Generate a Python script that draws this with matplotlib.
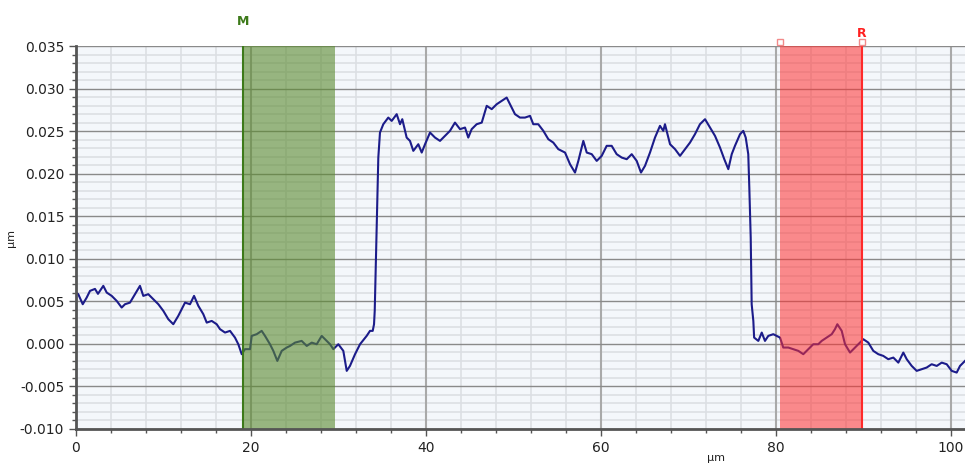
import matplotlib
matplotlib.use("Agg")
import matplotlib.pyplot as plt
from matplotlib.ticker import MultipleLocator, FormatStrFormatter

# Profile trace: position (um) and height (um)
x_um = [0.0, 0.26, 0.77, 1.22, 1.60, 2.17, 2.51, 3.12, 3.51, 4.08, 4.65, 5.22, 5.60,
        6.17, 6.74, 7.31, 7.69, 8.26, 8.83, 9.41, 9.98, 10.55, 11.12, 11.69, 12.46,
        13.03, 13.49, 13.98, 14.55, 14.94, 15.51, 16.08, 16.46, 17.03, 17.60, 18.17,
        18.55, 18.94, 19.31, 19.89, 20.08, 20.65, 21.22, 21.60, 22.17, 22.55, 23.01,
        23.51, 24.08, 24.46, 25.03, 25.79, 26.37, 26.94, 27.51, 28.08, 28.46, 29.03,
        29.41, 29.98, 30.55, 30.94, 31.31, 31.89, 32.46, 33.22, 33.60, 33.91, 34.06,
        34.14, 34.55, 34.74, 35.12, 35.69, 36.08, 36.65, 37.03, 37.29, 37.79, 38.17,
        38.55, 39.12, 39.51, 39.89, 40.46, 41.03, 41.60, 42.17, 42.74, 43.31, 43.89,
        44.46, 44.83, 45.22, 45.79, 46.37, 46.94, 47.51, 48.08, 48.65, 49.22, 49.60,
        50.17, 50.74, 51.31, 51.89, 52.26, 52.83, 53.41, 53.98, 54.55, 55.12, 55.89,
        56.46, 57.03, 57.41, 57.98, 58.37, 58.94, 59.51, 60.08, 60.65, 61.22, 61.79,
        62.37, 62.94, 63.51, 64.08, 64.57, 65.03, 65.60, 66.17, 66.74, 67.12, 67.31,
        67.89, 68.46, 69.03, 69.60, 70.17, 70.74, 71.31, 71.89, 72.46, 73.03, 73.60,
        74.09, 74.55, 74.94, 75.31, 75.89, 76.26, 76.54, 76.83, 76.95, 77.11, 77.22,
        77.41, 77.50, 77.98, 78.37, 78.74, 79.12, 79.69, 80.08, 80.46, 80.83, 81.41,
        81.98, 82.55, 83.12, 83.69, 84.26, 84.83, 85.22, 85.79, 86.37, 86.74, 87.01,
        87.51, 87.89, 88.46, 89.03, 89.60, 89.98, 90.55, 91.12, 91.69, 92.26, 92.83,
        93.41, 93.98, 94.55, 94.94, 95.51, 96.08, 96.65, 97.22, 97.79, 98.37, 98.94,
        99.51, 100.08, 100.65, 101.03, 101.60]
z_um = [0.00603, 0.00584, 0.00466, 0.00544, 0.00623, 0.00646, 0.00588, 0.00682,
        0.00603, 0.00564, 0.00505, 0.00427, 0.00466, 0.00485, 0.00584, 0.00682,
        0.00564, 0.00584, 0.00525, 0.00466, 0.00388, 0.00290, 0.00231, 0.00329,
        0.00485, 0.00466, 0.00564, 0.00447, 0.00349, 0.00250, 0.00270, 0.00231,
        0.00173, 0.00133, 0.00153, 0.00074, -0.00004, -0.00121, -0.00062, -0.00062,
        0.00094, 0.00114, 0.00153, 0.00094, -0.00004, -0.00082, -0.00200, -0.00082,
        -0.00043, -0.00024, 0.00015, 0.00035, -0.00024, 0.00015, -0.00004, 0.00094,
        0.00055, -0.00004, -0.00062, -0.00004, -0.00082, -0.00317, -0.00259, -0.00121,
        -0.00004, 0.00094, 0.00153, 0.00153, 0.00231, 0.00388, 0.02189, 0.02483,
        0.02581, 0.02659, 0.02620, 0.02699, 0.02581, 0.02640, 0.02424, 0.02385,
        0.02268, 0.02346, 0.02248, 0.02346, 0.02483, 0.02424, 0.02385, 0.02444,
        0.02503, 0.02600, 0.02523, 0.02542, 0.02424, 0.02523, 0.02581, 0.02600,
        0.02797, 0.02758, 0.02816, 0.02855, 0.02894, 0.02816, 0.02699, 0.02659,
        0.02659, 0.02679, 0.02581, 0.02581, 0.02503, 0.02405, 0.02365, 0.02288,
        0.02248, 0.02111, 0.02013, 0.02150, 0.02385, 0.02248, 0.02229, 0.02150,
        0.02209, 0.02327, 0.02327, 0.02229, 0.02189, 0.02170, 0.02229, 0.02150,
        0.02013, 0.02092, 0.02248, 0.02424, 0.02562, 0.02503, 0.02581, 0.02346,
        0.02288, 0.02209, 0.02288, 0.02365, 0.02464, 0.02581, 0.02640, 0.02542,
        0.02444, 0.02307, 0.02170, 0.02053, 0.02229, 0.02327, 0.02464, 0.02503,
        0.02424, 0.02229, 0.01837, 0.01249, 0.00466, 0.00270, 0.00074, 0.00035,
        0.00133, 0.00035, 0.00094, 0.00114, 0.00094, 0.00074, -0.00043, -0.00043,
        -0.00062, -0.00082, -0.00121, -0.00062, -0.00004, -0.00004, 0.00035,
        0.00074, 0.00114, 0.00173, 0.00231, 0.00153, -0.00004, -0.00102, -0.00043,
        0.00015, 0.00055, 0.00015, -0.00082, -0.00121, -0.00141, -0.00180, -0.00161,
        -0.00220, -0.00102, -0.00180, -0.00259, -0.00317, -0.00297, -0.00278,
        -0.00239, -0.00259, -0.00220, -0.00239, -0.00317, -0.00337, -0.00259,
        -0.00200]

# Cursor regions
m_band = (19.1, 29.6)
r_band = (80.45, 89.85)

fig = plt.figure(figsize=(9.65, 4.65), dpi=100)
ax = fig.add_axes([76 / 965, 36 / 465, 889 / 965, 383 / 465])
ax.set_facecolor("#f4f7fb")

ax.set_xlim(0, 101.6)
ax.set_ylim(-0.010, 0.035)

ax.xaxis.set_major_locator(MultipleLocator(20))
ax.xaxis.set_minor_locator(MultipleLocator(4))
ax.yaxis.set_major_locator(MultipleLocator(0.005))
ax.yaxis.set_minor_locator(MultipleLocator(0.001))
ax.yaxis.set_major_formatter(FormatStrFormatter("%.3f"))

# light minor grid underneath, major lines on top of it
ax.set_axisbelow(True)
ax.grid(which="minor", axis="both", color="#dcdfe4", lw=1.2, ls="-")
for xv in ax.get_xticks():
    ax.axvline(xv, color="#a9a9a9", lw=1.5, zorder=1.1)
for yv in ax.get_yticks():
    ax.axhline(yv, color="#8a8a8a", lw=1.0, zorder=1.2)

ax.plot(x_um, z_um, color="#1c1c8a", lw=1.5, zorder=2)

# cursor bands drawn over the trace
ax.axvspan(*m_band, color="#5a8a2e", alpha=0.6, lw=0, zorder=3)
ax.axvline(m_band[0], color="#3d7a1a", lw=1.5, zorder=4)
ax.axvspan(*r_band, color="#ff3030", alpha=0.55, lw=0, zorder=3)
ax.axvline(r_band[1], color="#ff2a2a", lw=1.5, zorder=4)
for xv in r_band:
    ax.plot(xv, 0.0355, marker="s", ms=5, mfc="none", mec="#f28a8a", mew=1,
            clip_on=False, zorder=5)

ax.text(m_band[0], 0.0379, "M", color="#3d7a1a", fontsize=9, fontweight="bold",
        ha="center", va="center", clip_on=False)
ax.text(r_band[1], 0.0365, "R", color="#ff2020", fontsize=9, fontweight="bold",
        ha="center", va="center", clip_on=False)

ax.set_xlim(0, 101.6)
ax.set_ylim(-0.010, 0.035)

for side in ("top", "right"):
    ax.spines[side].set_visible(False)
for side in ("left", "bottom"):
    ax.spines[side].set_color("#555555")
    ax.spines[side].set_linewidth(2)
    ax.spines[side].set_zorder(6)

ax.tick_params(which="major", direction="out", length=5, width=1, color="#555555",
               labelsize=10, labelcolor="#222222")
ax.tick_params(which="minor", direction="out", length=3, width=1, color="#555555")

ax.set_ylabel("µm", fontsize=8, color="#222222")
ax.yaxis.set_label_coords(-60 / 889, 0.5)
ax.set_xlabel("µm", fontsize=8, color="#222222")
ax.xaxis.set_label_coords((716 - 76) / 889, -24 / 383)

fig.savefig("out.png", dpi=100)
